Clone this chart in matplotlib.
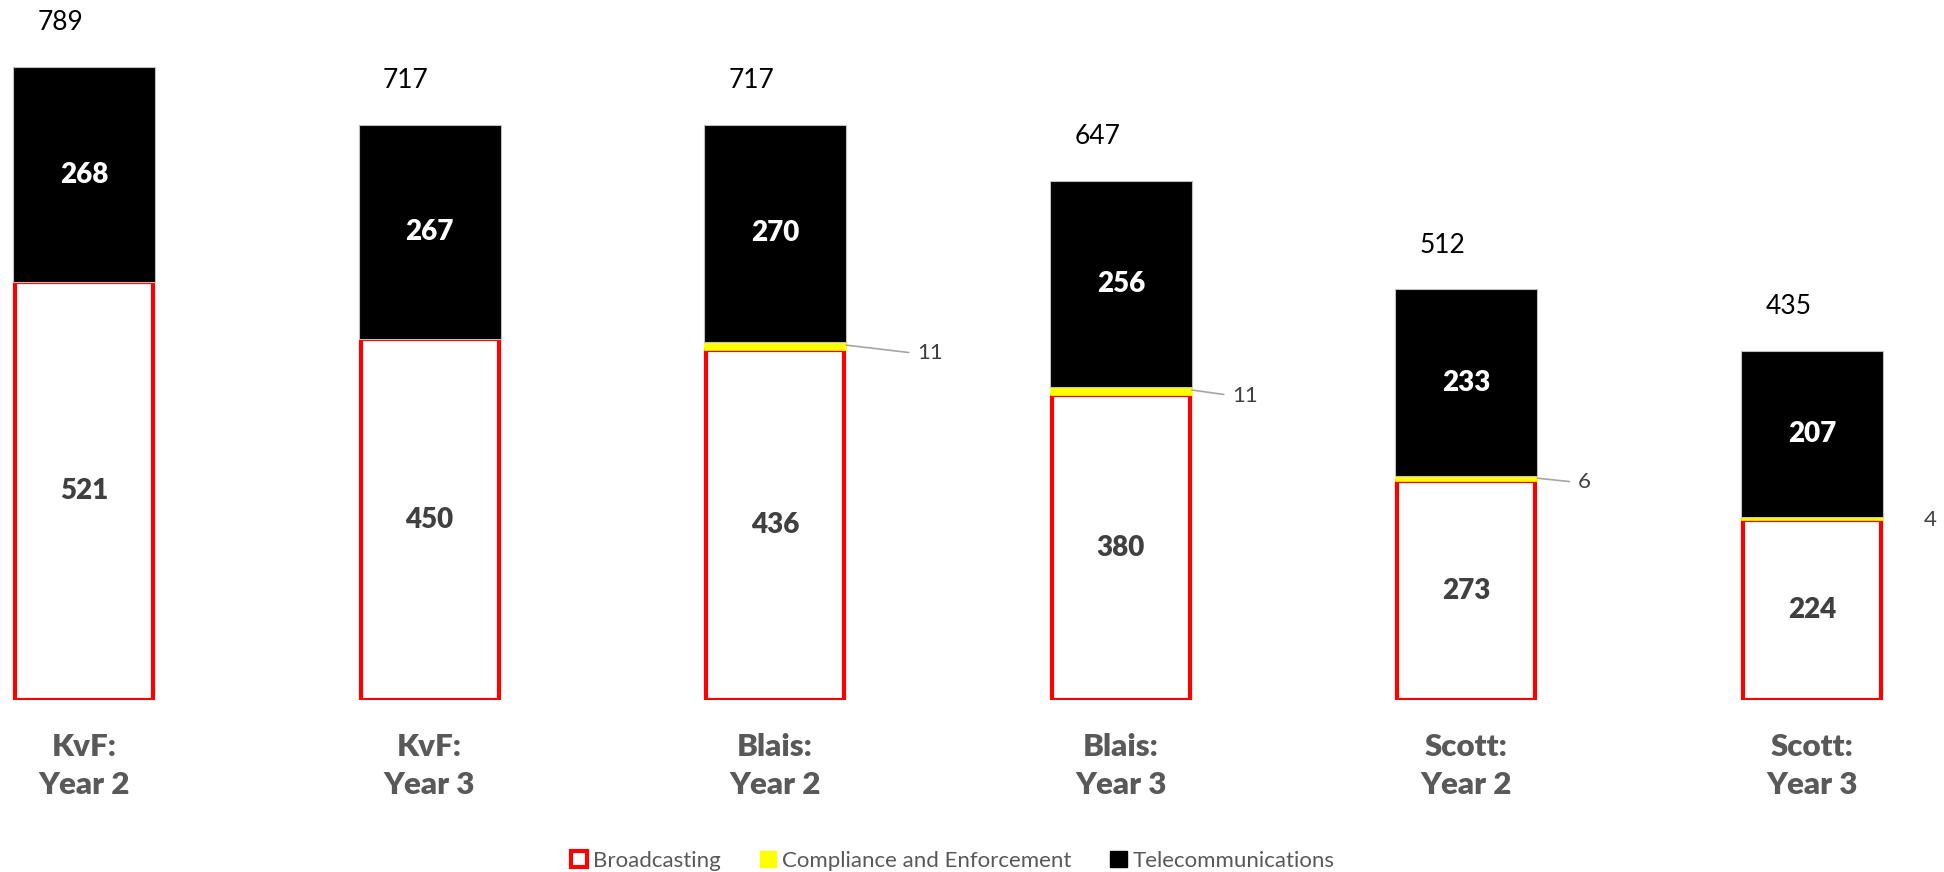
import numpy as np
import matplotlib.pyplot as plt
from matplotlib.patches import Patch

plt.rcParams['font.family'] = ['Lato', 'DejaVu Sans']

# budget by commissioner and year
categories = ['KvF:\nYear 2', 'KvF:\nYear 3', 'Blais:\nYear 2', 'Blais:\nYear 3', 'Scott:\nYear 2', 'Scott:\nYear 3']
broadcasting = [521, 450, 436, 380, 273, 224]
compliance = [0, 0, 11, 11, 6, 4]
telecom = [268, 267, 270, 256, 233, 207]
totals = [789, 717, 717, 647, 512, 435]

# label offsets (points) for the small compliance labels
small_offsets = [None, None, (51, -6), (29, -4), (29, -3), (29, -1)]
show_leader = [False, False, True, True, True, False]

fig = plt.figure(figsize=(19.44, 8.72), dpi=100)
ax = fig.add_axes([0, 0.1972, 1, 0.8028])

x = np.arange(len(categories))
width = 0.411
red_lw = 3.0
inset = (red_lw / 72 * 100) / 345.6

bottom_c = np.array(broadcasting)
bottom_t = bottom_c + np.array(compliance)

ax.bar(x, broadcasting, width - inset, color='white', edgecolor='#ff0000', linewidth=red_lw, zorder=2)
ax.bar(x, compliance, width, bottom=bottom_c, color='#ffff00', edgecolor='#ffff00', linewidth=0.5, zorder=3)
ax.bar(x, telecom, width, bottom=bottom_t, color='black', edgecolor='#bfbfbf', linewidth=0.8, zorder=3)

ax.set_xlim(-0.243, 5.382)
ax.set_ylim(0, 873)

for i in range(len(x)):
    ax.text(x[i], broadcasting[i] / 2, str(broadcasting[i]), ha='center', va='center',
            fontsize=20, fontweight='heavy', color='#404040', zorder=4)
    ax.text(x[i], bottom_t[i] + telecom[i] / 2, str(telecom[i]), ha='center', va='center',
            fontsize=20, fontweight='heavy', color='white', zorder=4)
    ax.annotate(str(totals[i]), xy=(x[i], totals[i]), xytext=(-17, 32), textcoords='offset points',
                ha='center', va='center', fontsize=19, color='black', annotation_clip=False)
    if compliance[i] > 0:
        xy = (x[i] + width / 2, bottom_c[i] + compliance[i] * 0.6)
        if show_leader[i]:
            ax.annotate(str(compliance[i]), xy=xy, xytext=small_offsets[i], textcoords='offset points',
                        ha='left', va='center', fontsize=16, color='#404040', annotation_clip=False,
                        arrowprops=dict(arrowstyle='-', color='#a6a6a6', lw=1.2,
                                        relpos=(0, 0.5), shrinkA=4, shrinkB=0))
        else:
            ax.annotate(str(compliance[i]), xy=xy, xytext=small_offsets[i], textcoords='offset points',
                        ha='left', va='center', fontsize=16, color='#404040', annotation_clip=False)

ax.set_xticks(x)
ax.set_xticklabels(categories, fontsize=22.5, fontweight='heavy', color='#595959', linespacing=1.42)
ax.tick_params(axis='x', length=0, pad=24)
ax.set_yticks([])
for s in ax.spines.values():
    s.set_visible(False)

handles = [Patch(facecolor='white', edgecolor='#ff0000', linewidth=3),
           Patch(facecolor='#ffff00', edgecolor='#ffff00'),
           Patch(facecolor='black', edgecolor='black')]
leg = fig.legend(handles, ['Broadcasting', 'Compliance and Enforcement', 'Telecommunications'],
                 loc='center', bbox_to_anchor=(0.49, 0.013), ncol=3, frameon=False, fontsize=16,
                 handlelength=0.75, handleheight=0.75, handletextpad=0.25, columnspacing=1.75)
for t in leg.get_texts():
    t.set_color('#595959')

plt.savefig('out.png', dpi=100)
